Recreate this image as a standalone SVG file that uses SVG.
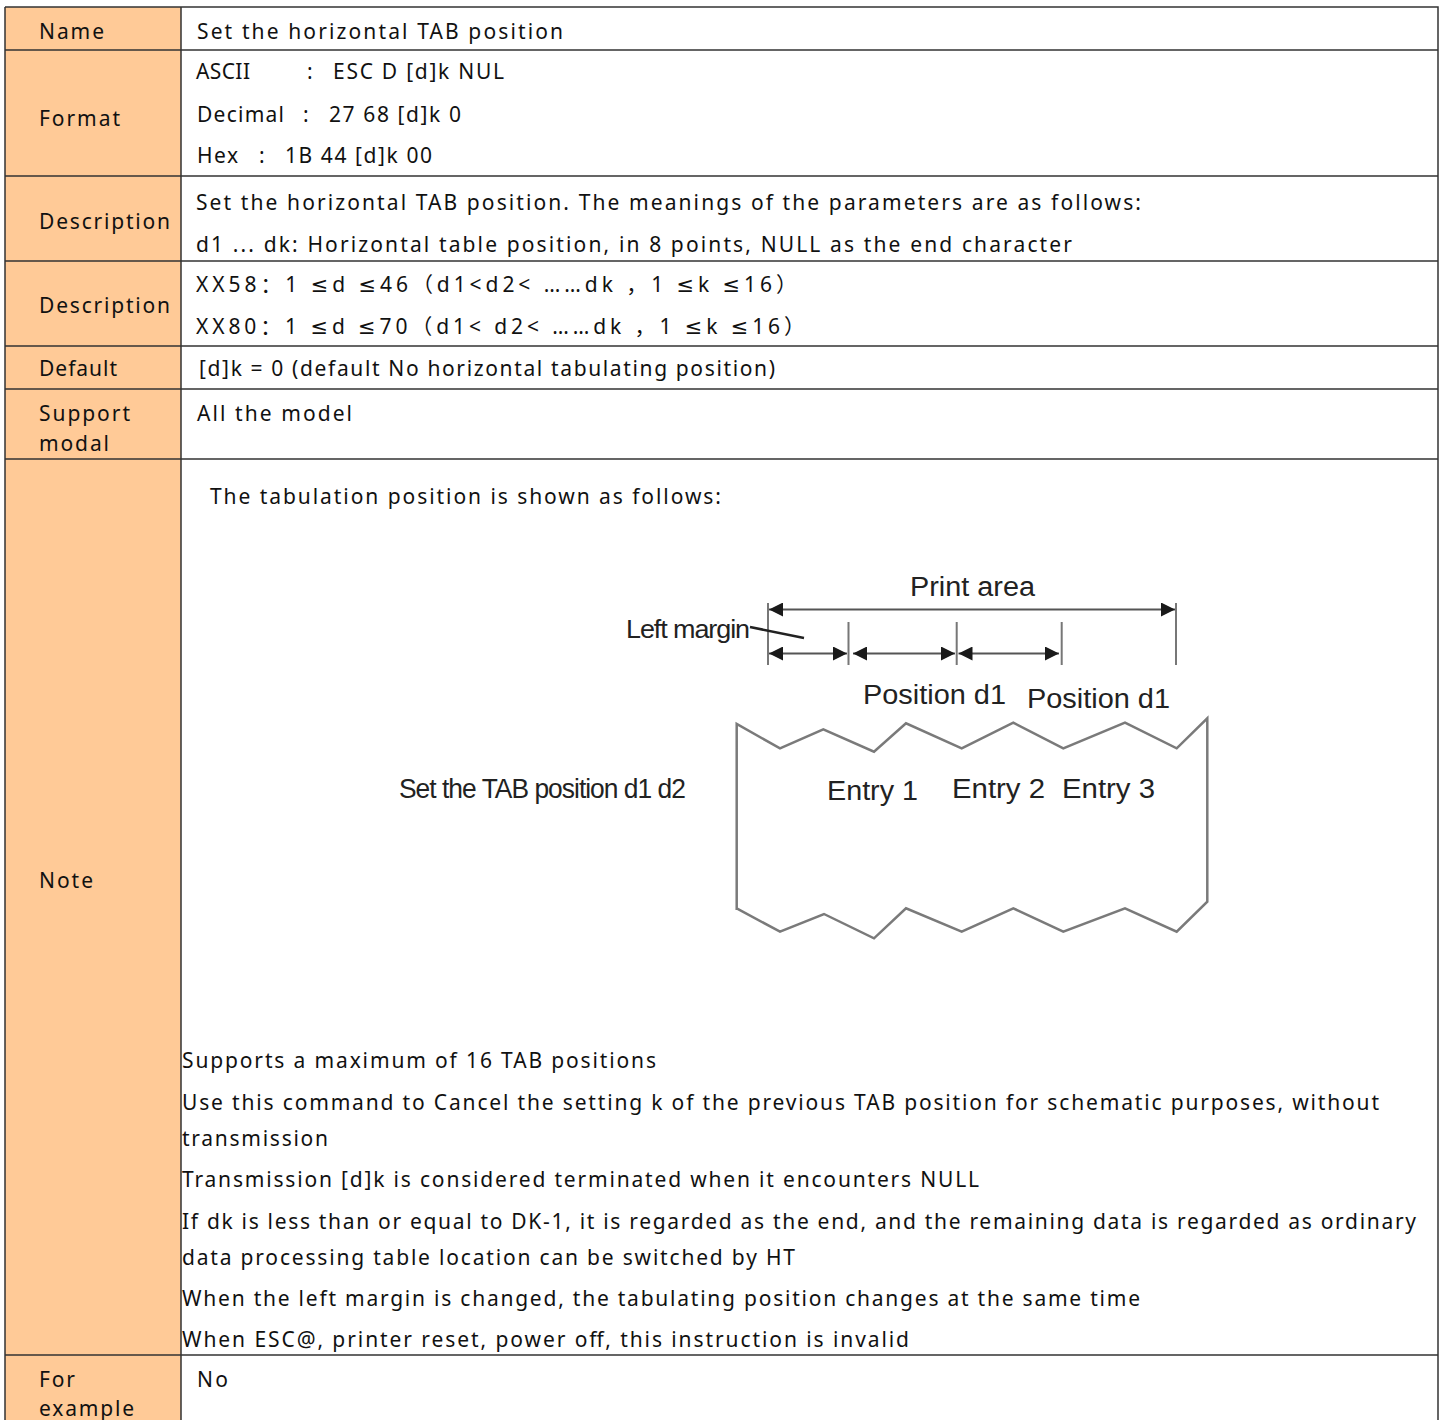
<svg xmlns="http://www.w3.org/2000/svg" width="1447" height="1420" viewBox="0 0 1447 1420">
<defs>
<style>
.t{font-family:"Noto Sans","DejaVu Sans","Noto Sans CJK SC",sans-serif;font-size:21px;fill:#111}
.d{font-family:"Liberation Sans",sans-serif;fill:#222}
.grid{stroke:#333;stroke-width:1.5;fill:none}
.paper{stroke:#7a7a7a;stroke-width:2.5;fill:none;stroke-linejoin:miter}
.dim{stroke:#555;stroke-width:1.8;fill:none}
.tick{stroke:#777;stroke-width:2;fill:none}
</style>
<marker id="ah" viewBox="0 0 10 10" refX="10" refY="5" markerWidth="15" markerHeight="14" markerUnits="userSpaceOnUse" orient="auto-start-reverse">
<path d="M0,0 L10,5 L0,10 z" fill="#1a1a1a"/>
</marker>
</defs>
<rect width="1447" height="1420" fill="#fff"/>
<g id="table">
<rect x="5" y="7" width="176" height="1420" fill="#FFCA97"/>
<path class="grid" d="M5,7 H1438 V1425 M5,7 V1425 M181,7 V1425 M5,50 H1438 M5,176 H1438 M5,261 H1438 M5,346 H1438 M5,389 H1438 M5,459 H1438 M5,1355 H1438"/>
</g>
<g id="labels">
<text class="t" x="39" y="39" textLength="65" lengthAdjust="spacing">Name</text>
<text class="t" x="39" y="126" textLength="81" lengthAdjust="spacing">Format</text>
<text class="t" x="39" y="229" textLength="131" lengthAdjust="spacing">Description</text>
<text class="t" x="39" y="313" textLength="131" lengthAdjust="spacing">Description</text>
<text class="t" x="39" y="376" textLength="78" lengthAdjust="spacing">Default</text>
<text class="t" x="39" y="421" textLength="91" lengthAdjust="spacing">Support</text>
<text class="t" x="39" y="451" textLength="70" lengthAdjust="spacing">modal</text>
<text class="t" x="39" y="888" textLength="54" lengthAdjust="spacing">Note</text>
<text class="t" x="39" y="1387" textLength="36" lengthAdjust="spacing">For</text>
<text class="t" x="39" y="1416" textLength="95" lengthAdjust="spacing">example</text>
</g>
<g id="values">
<text class="t" x="197" y="39" textLength="366" lengthAdjust="spacing">Set the horizontal TAB position</text>
<text class="t" x="196" y="79" textLength="54" lengthAdjust="spacing">ASCII</text>
<text class="t" x="307" y="79">:</text>
<text class="t" x="333" y="79" textLength="171" lengthAdjust="spacing">ESC D  [d]k NUL</text>
<text class="t" x="197" y="122" textLength="87" lengthAdjust="spacing">Decimal</text>
<text class="t" x="303" y="122">:</text>
<text class="t" x="329" y="122" textLength="132" lengthAdjust="spacing">27 68 [d]k 0</text>
<text class="t" x="197" y="163" textLength="41" lengthAdjust="spacing">Hex</text>
<text class="t" x="259" y="163">:</text>
<text class="t" x="285" y="163" textLength="147" lengthAdjust="spacing">1B 44 [d]k 00</text>
<text class="t" x="196" y="210" textLength="945" lengthAdjust="spacing">Set the horizontal TAB position. The meanings of the parameters are as follows:</text>
<text class="t" x="196" y="252" textLength="876" lengthAdjust="spacing">d1 ...  dk: Horizontal table position, in 8 points, NULL as the end character</text>
<text class="t" x="196" y="292" textLength="601" lengthAdjust="spacing">XX58：1 ≤d ≤46（d1&lt;d2&lt; ……dk ，1 ≤k ≤16）</text>
<text class="t" x="196" y="334" textLength="609" lengthAdjust="spacing">XX80：1 ≤d ≤70（d1&lt; d2&lt; ……dk ，1 ≤k ≤16）</text>
<text class="t" x="199" y="376" textLength="576" lengthAdjust="spacing">[d]k = 0 (default No horizontal tabulating position)</text>
<text class="t" x="197" y="421" textLength="155" lengthAdjust="spacing">All the model</text>
<text class="t" x="210" y="504" textLength="511" lengthAdjust="spacing">The tabulation position is shown as follows:</text>
<text class="t" x="182" y="1068" textLength="474" lengthAdjust="spacing">Supports a maximum of 16 TAB positions</text>
<text class="t" x="182" y="1110" textLength="1197" lengthAdjust="spacing">Use this command to Cancel the setting k of the previous TAB position for schematic purposes, without</text>
<text class="t" x="182" y="1146" textLength="146" lengthAdjust="spacing">transmission</text>
<text class="t" x="182" y="1187" textLength="797" lengthAdjust="spacing">Transmission [d]k is considered terminated when it encounters NULL</text>
<text class="t" x="182" y="1229" textLength="1234" lengthAdjust="spacing">If dk is less than or equal to DK-1, it is regarded as the end, and the remaining data is regarded as ordinary</text>
<text class="t" x="182" y="1265" textLength="613" lengthAdjust="spacing">data processing table location can be switched by HT</text>
<text class="t" x="182" y="1306" textLength="958" lengthAdjust="spacing">When the left margin is changed, the tabulating position changes at the same time</text>
<text class="t" x="182" y="1347" textLength="727" lengthAdjust="spacing">When ESC@, printer reset, power off, this instruction is invalid</text>
<text class="t" x="197" y="1387" textLength="31" lengthAdjust="spacing">No</text>
</g>
<g id="paper">
<path class="paper" d="M736.7,910 V724 L780,748.3 L823.3,729.3 L874,751.7 L906,723.3 L961.7,748.3 L1013.3,722.7 L1063.3,748.3 L1125,722.7 L1176.7,748.3 L1207.3,718.3 V901.7 L1176.7,931.7 L1125,908.3 L1063.3,931.7 L1013.3,908.3 L961.7,931.7 L906,908.3 L874,938.3 L824,914 L780,931.7 L736.7,908.3"/>
<text class="d" x="827" y="800" font-size="27" textLength="91" lengthAdjust="spacingAndGlyphs">Entry 1</text>
<text class="d" x="952" y="798" font-size="27" textLength="93" lengthAdjust="spacingAndGlyphs">Entry 2</text>
<text class="d" x="1062" y="798" font-size="27" textLength="93" lengthAdjust="spacingAndGlyphs">Entry 3</text>
</g>
<g id="diagram-labels">
<text class="d" x="910" y="596" font-size="27" fill="#333" textLength="125" lengthAdjust="spacingAndGlyphs">Print area</text>
<text class="d" x="626" y="638" font-size="25" textLength="123" lengthAdjust="spacingAndGlyphs" letter-spacing="-1">Left margin</text>
<text class="d" x="863" y="704" font-size="27" textLength="143" lengthAdjust="spacingAndGlyphs">Position d1</text>
<text class="d" x="1027" y="708" font-size="27" textLength="143" lengthAdjust="spacingAndGlyphs">Position d1</text>
<text class="d" x="399" y="798" font-size="27" textLength="286" lengthAdjust="spacingAndGlyphs" letter-spacing="-1">Set the TAB position d1 d2</text>
</g>
<g id="connectors">
<path class="tick" d="M768,603 V665 M1176,603 V665 M848.5,622 V665 M956.7,622 V665 M1061.7,622 V665"/>
<line class="dim" x1="769" y1="609.5" x2="1175" y2="609.5" marker-start="url(#ah)" marker-end="url(#ah)"/>
<line class="dim" x1="769" y1="653.5" x2="847" y2="653.5" marker-start="url(#ah)" marker-end="url(#ah)"/>
<line class="dim" x1="853" y1="653.5" x2="955" y2="653.5" marker-start="url(#ah)" marker-end="url(#ah)"/>
<line class="dim" x1="958.5" y1="653.5" x2="1059" y2="653.5" marker-start="url(#ah)" marker-end="url(#ah)"/>
<line x1="750" y1="627" x2="804" y2="638" stroke="#222" stroke-width="2.5"/>
</g>
</svg>
